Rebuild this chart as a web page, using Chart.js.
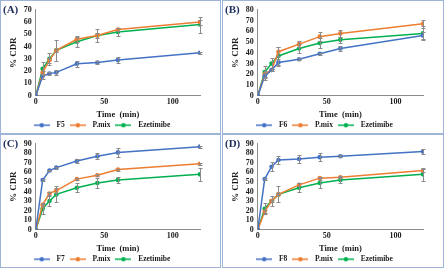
<!DOCTYPE html>
<html>
<head>
<meta charset="utf-8">
<script src="https://cdn.jsdelivr.net/npm/chart.js@4.4.1/dist/chart.umd.min.js"></script>
<style>
  html, body { margin: 0; padding: 0; background: #fff; }
  .panel { position: absolute; border: 1px solid #9fb5d8; box-sizing: border-box; background: #fff; }
  .panel canvas { display: block; }
</style>
</head>
<body>
<div class="panel" style="left:0;top:0;width:221px;height:134px"><canvas id="chartA" width="219" height="132"></canvas></div>
<div class="panel" style="left:222px;top:0;width:222px;height:134px"><canvas id="chartB" width="220" height="132"></canvas></div>
<div class="panel" style="left:0;top:134px;width:221px;height:134px"><canvas id="chartC" width="219" height="132"></canvas></div>
<div class="panel" style="left:222px;top:134px;width:222px;height:134px"><canvas id="chartD" width="220" height="132"></canvas></div>
<script>
// time points (min)
const times = [0, 5, 10, 15, 30, 45, 60, 120];

// pure drug, same in every panel
const ezetimibe    = [0, 22, 30, 37, 44, 49, 52, 58];
const ezetimibeErr = [0, 5.5, 5, 8.5, 4.5, 5, 3, 6.5];

// panel A
const f5       = [0, 16, 18, 19, 26, 27, 29, 35];
const f5Err    = [0, 2, 1.5, 2, 2.5, 1, 2.5, 1];
const pmixA    = [0, 19, 29, 37, 46, 49, 54, 60];
const pmixAErr = [0, 1, 2, 1, 2, 2, 1.5, 2];

// panel B
const f6       = [0, 18, 24, 31, 34, 39, 44, 56];
const f6Err    = [0, 3, 1, 3, 1, 1, 2, 3.5];
const pmixB    = [0, 20, 24, 41, 48, 55, 58, 67];
const pmixBErr = [0, 3, 1, 4, 3, 4, 3, 3.5];

// panel C
const f7       = [0, 52, 62, 65, 72, 77, 81, 87];
const f7Err    = [0, 1, 1, 1, 2, 3, 5, 1];
const pmixC    = [0, 26, 38, 41, 53, 57, 63, 69];
const pmixCErr = [0, 1, 2, 3, 1, 1, 1, 1];

// panel D
const f8       = [0, 53, 66, 73, 74, 76, 77, 82];
const f8Err    = [0, 1, 5, 4, 4, 4, 1, 2.5];
const pmixD    = [0, 19, 30, 37, 47, 54, 55, 62];
const pmixDErr = [0, 1.5, 1, 1, 1.5, 1.5, 1, 2];

const xTicks = [0, 50, 100];

const BLUE = '#4472C4';
const ORANGE = '#ED7D31';
const GREEN = '#00B050';
const SERIF = '"Liberation Serif", "Times New Roman", serif';

function legendIcon(color) {
    const c = document.createElement('canvas');
    c.width = 16; c.height = 6;
    const g = c.getContext('2d');
    g.strokeStyle = color; g.lineWidth = 1.5;
    g.beginPath(); g.moveTo(0, 3); g.lineTo(16, 3); g.stroke();
    g.fillStyle = color;
    g.beginPath(); g.arc(8, 3, 2.2, 0, Math.PI * 2); g.fill();
    return c;
}

// draws the +/- error bars from each dataset's errors array
const errorBars = {
    id: 'errorBars',
    afterDatasetsDraw(chart) {
        const ctx = chart.ctx;
        const yScale = chart.scales.y;
        ctx.save();
        ctx.strokeStyle = '#8a8a8a';
        ctx.lineWidth = 1;
        chart.data.datasets.forEach((ds, i) => {
            const meta = chart.getDatasetMeta(i);
            meta.data.forEach((pt, j) => {
                const e = ds.errors[j];
                if (!e) return;
                const v = ds.data[j].y;
                const top = Math.round(yScale.getPixelForValue(v + e)) + 0.5;
                const bot = Math.round(yScale.getPixelForValue(v - e)) + 0.5;
                const x = Math.round(pt.x) + 0.5;
                ctx.beginPath();
                ctx.moveTo(x, top); ctx.lineTo(x, bot);
                ctx.moveTo(x - 2, top); ctx.lineTo(x + 2, top);
                ctx.moveTo(x - 2, bot); ctx.lineTo(x + 2, bot);
                ctx.stroke();
            });
        });
        ctx.restore();
    }
};

// panel letter in the top-left corner
const panelLabel = {
    id: 'panelLabel',
    afterDraw(chart, args, opts) {
        const ctx = chart.ctx;
        ctx.save();
        ctx.fillStyle = '#1f2f5c';
        ctx.font = 'bold 11px ' + SERIF;
        ctx.textBaseline = 'top';
        ctx.fillText(opts.text, 2, 4);
        ctx.restore();
    }
};

function series(label, values, errors, color) {
    return {
        label: label,
        data: times.map((t, i) => ({ x: t, y: values[i] })),
        errors: errors,
        borderColor: color,
        backgroundColor: color,
        borderWidth: 1.5,
        pointRadius: 2.3,
        pointHoverRadius: 2.3,
        pointBorderWidth: 0,
        tension: 0
    };
}

function makeChart(id, letter, sets, yMax) {
    new Chart(document.getElementById(id), {
        type: 'line',
        data: { datasets: sets },
        plugins: [errorBars, panelLabel],
        options: {
            responsive: false,
            animation: false,
            layout: { padding: { left: 0, right: 20, top: 4, bottom: -6 } },
            plugins: {
                panelLabel: { text: letter },
                tooltip: { enabled: false },
                legend: {
                    position: 'bottom',
                    labels: {
                        usePointStyle: true,
                        pointStyleWidth: 22,
                        boxHeight: 6,
                        padding: 2,
                        color: '#1a1a1a',
                        font: { family: SERIF, size: 7.5, weight: 'bold' },
                        generateLabels(chart) {
                            return chart.data.datasets.map((ds, i) => ({
                                text: ds.label,
                                pointStyle: legendIcon(ds.borderColor),
                                fillStyle: ds.borderColor,
                                strokeStyle: ds.borderColor,
                                lineWidth: 0,
                                fontColor: '#1a1a1a',
                                datasetIndex: i
                            }));
                        }
                    }
                }
            },
            scales: {
                x: {
                    type: 'linear',
                    min: 0,
                    max: 120,
                    afterBuildTicks(axis) { axis.ticks = xTicks.map(v => ({ value: v })); },
                    grid: { display: false, drawTicks: false },
                    border: { color: '#8c8c8c', width: 1 },
                    ticks: { color: '#1a1a1a', padding: 1, font: { family: SERIF, size: 8, weight: 'bold' } },
                    title: { display: true, text: 'Time  (min)', color: '#1a1a1a', padding: { top: 2, bottom: 0 },
                             font: { family: SERIF, size: 8.5, weight: 'bold' } }
                },
                y: {
                    min: 0,
                    max: yMax,
                    grid: { display: false, drawTicks: false },
                    border: { color: '#8c8c8c', width: 1 },
                    ticks: { stepSize: 10, autoSkip: false, color: '#1a1a1a', padding: 4,
                             font: { family: SERIF, size: 8, weight: 'bold' } },
                    title: { display: true, text: '% CDR', color: '#1a1a1a', padding: { top: 7, bottom: 1 },
                             font: { family: SERIF, size: 9, weight: 'bold' } }
                }
            }
        }
    });
}

makeChart('chartA', '(A)', [
    series('F5', f5, f5Err, BLUE),
    series('P.mix', pmixA, pmixAErr, ORANGE),
    series('Ezetimibe', ezetimibe, ezetimibeErr, GREEN)
], 70);
makeChart('chartB', '(B)', [
    series('F6', f6, f6Err, BLUE),
    series('P.mix', pmixB, pmixBErr, ORANGE),
    series('Ezetimibe', ezetimibe, ezetimibeErr, GREEN)
], 80);
makeChart('chartC', '(C)', [
    series('F7', f7, f7Err, BLUE),
    series('P.mix', pmixC, pmixCErr, ORANGE),
    series('Ezetimibe', ezetimibe, ezetimibeErr, GREEN)
], 90);
makeChart('chartD', '(D)', [
    series('F8', f8, f8Err, BLUE),
    series('P.mix', pmixD, pmixDErr, ORANGE),
    series('Ezetimibe', ezetimibe, ezetimibeErr, GREEN)
], 90);
</script>
</body>
</html>
